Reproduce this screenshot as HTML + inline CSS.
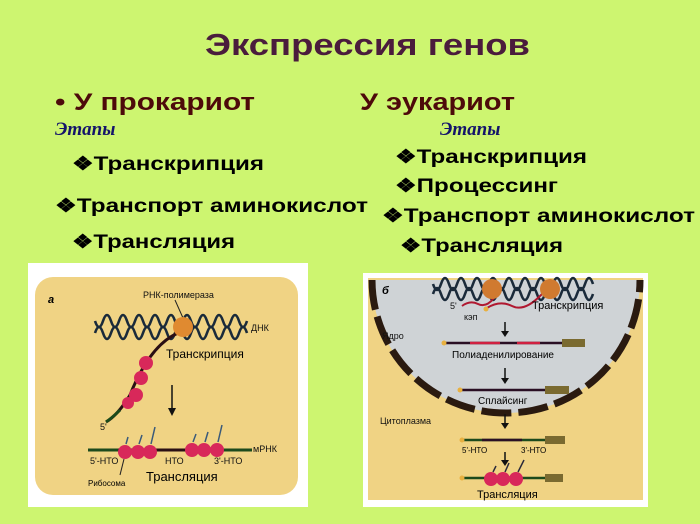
<!DOCTYPE html>
<html><head><meta charset="utf-8"><style>
html,body{margin:0;padding:0;background:#cdf570;}
svg{display:block}
.b{font-family:"Liberation Sans",sans-serif;font-weight:bold}
.s{font-family:"Liberation Sans",sans-serif;font-size:9px;fill:#111}
</style></head><body>
<svg width="700" height="524" viewBox="0 0 700 524" xmlns="http://www.w3.org/2000/svg">
<rect width="700" height="524" fill="#cdf570"/>
<text x="205" y="55" class="b" font-size="31" fill="#4a1c3c" textLength="325" lengthAdjust="spacingAndGlyphs">Экспрессия генов</text>
<text x="55" y="110" class="b" font-size="24" fill="#4d0a0a" textLength="200" lengthAdjust="spacingAndGlyphs">• У прокариот</text>
<text x="360" y="110" class="b" font-size="24" fill="#4d0a0a" textLength="155" lengthAdjust="spacingAndGlyphs">У эукариот</text>
<text x="55" y="135" font-family="Liberation Serif,serif" font-style="italic" font-weight="bold" font-size="19" fill="#14146a">Этапы</text>
<text x="440" y="135" font-family="Liberation Serif,serif" font-style="italic" font-weight="bold" font-size="19" fill="#14146a">Этапы</text>
<g class="b" font-size="19" fill="#000">
<text x="72" y="170" textLength="192" lengthAdjust="spacingAndGlyphs">❖Транскрипция</text>
<text x="55" y="212" textLength="313" lengthAdjust="spacingAndGlyphs">❖Транспорт аминокислот</text>
<text x="72" y="248" textLength="163" lengthAdjust="spacingAndGlyphs">❖Трансляция</text>
<text x="395" y="163" textLength="192" lengthAdjust="spacingAndGlyphs">❖Транскрипция</text>
<text x="395" y="192" textLength="163" lengthAdjust="spacingAndGlyphs">❖Процессинг</text>
<text x="382" y="222" textLength="313" lengthAdjust="spacingAndGlyphs">❖Транспорт аминокислот</text>
<text x="400" y="252" textLength="163" lengthAdjust="spacingAndGlyphs">❖Трансляция</text>
</g>

<!-- left diagram -->
<rect x="28" y="263" width="280" height="244" fill="#fff"/>
<rect x="35" y="277" width="263" height="218" rx="18" fill="#f0d384"/>
<text x="48" y="303" font-family="Liberation Sans,sans-serif" font-style="italic" font-weight="bold" font-size="11">а</text>
<text x="143" y="298" class="s">РНК-полимераза</text>
<line x1="175" y1="300" x2="183" y2="318" stroke="#222"/>
<g stroke="#1a2a3a" stroke-width="2.6" fill="none">
<path d="M95 321 Q99 333 103 321 T111 321 T119 321 T127 321 T135 321 T143 321 T151 321 T159 321 T167 321 T175 321 T183 321 T191 321 T199 321 T207 321 T215 321 T223 321 T231 321 T239 321 T247 321"/>
<path d="M95 333 Q99 321 103 333 T111 333 T119 333 T127 333 T135 333 T143 333 T151 333 T159 333 T167 333 T175 333 T183 333 T191 333 T199 333 T207 333 T215 333 T223 333 T231 333 T239 333 T247 333"/>
</g>
<text x="251" y="331" class="s">ДНК</text>
<path d="M178 333 Q150 345 130 395 Q118 415 106 422" stroke="#2a0f14" stroke-width="3" fill="none"/>
<path d="M120 410 Q112 418 106 422" stroke="#1a4a1a" stroke-width="3" fill="none"/>
<circle cx="183" cy="327" r="10" fill="#e08a30"/>
<g fill="#d8285a"><circle cx="146" cy="363" r="7"/><circle cx="141" cy="378" r="7"/><circle cx="136" cy="395" r="7"/><circle cx="128" cy="403" r="6"/></g>
<text x="166" y="358" font-family="Liberation Sans,sans-serif" font-size="12">Транскрипция</text>
<line x1="172" y1="385" x2="172" y2="412" stroke="#111" stroke-width="1.5"/>
<path d="M168 408 L172 416 L176 408Z" fill="#111"/>
<text x="100" y="430" class="s">5'</text>
<line x1="88" y1="450" x2="252" y2="450" stroke="#1c4a1c" stroke-width="3"/>
<line x1="118" y1="450" x2="220" y2="450" stroke="#2a0f14" stroke-width="3"/>
<g fill="#d8285a"><circle cx="125" cy="452" r="7"/><circle cx="138" cy="452" r="7"/><circle cx="150" cy="452" r="7"/><circle cx="192" cy="450" r="7"/><circle cx="204" cy="450" r="7"/><circle cx="217" cy="450" r="7"/></g>
<g stroke="#3a5a7a" stroke-width="1.5"><line x1="126" y1="444" x2="128" y2="437"/><line x1="139" y1="444" x2="142" y2="435"/><line x1="151" y1="444" x2="155" y2="427"/><line x1="193" y1="442" x2="196" y2="434"/><line x1="205" y1="442" x2="208" y2="432"/><line x1="218" y1="442" x2="222" y2="425"/></g>
<text x="253" y="452" class="s">мРНК</text>
<text x="90" y="464" class="s">5'-НТО</text>
<text x="165" y="464" class="s">НТО</text>
<text x="214" y="464" class="s">3'-НТО</text>
<line x1="124" y1="459" x2="120" y2="475" stroke="#222"/>
<text x="88" y="486" font-family="Liberation Sans,sans-serif" font-size="8">Рибосома</text>
<text x="146" y="481" font-family="Liberation Sans,sans-serif" font-size="13">Трансляция</text>

<!-- right diagram -->
<rect x="363" y="273" width="285" height="234" fill="#fff"/>
<rect x="368" y="278" width="275" height="222" fill="#f0d384"/>
<path d="M372 280 A134 133 0 0 0 640 280 Z" fill="#cfd3d6"/>
<path d="M372 280 A134 133 0 0 0 640 280" fill="none" stroke="#2a1a10" stroke-width="7" stroke-dasharray="30 7"/>
<text x="382" y="294" font-family="Liberation Sans,sans-serif" font-style="italic" font-weight="bold" font-size="11">б</text>
<g stroke="#1a2a3a" stroke-width="2.6" fill="none">
<path d="M433 284 Q437 296 441 284 T449 284 T457 284 T465 284 T473 284 T481 284 T489 284 T497 284 T505 284 T513 284 T521 284 T529 284 T537 284 T545 284 T553 284 T561 284 T569 284 T577 284 T585 284 T593 284"/>
<path d="M433 294 Q437 282 441 294 T449 294 T457 294 T465 294 T473 294 T481 294 T489 294 T497 294 T505 294 T513 294 T521 294 T529 294 T537 294 T545 294 T553 294 T561 294 T569 294 T577 294 T585 294 T593 294"/>
</g>
<path d="M462 306 Q470 300 478 304 T494 298" stroke="#b01830" stroke-width="2" fill="none"/>
<path d="M487 308 Q500 300 512 306 T540 296 T550 298" stroke="#b01830" stroke-width="2" fill="none"/>
<circle cx="486" cy="309" r="2.5" fill="#e8b040"/>
<circle cx="492" cy="289" r="10" fill="#d07a30"/><circle cx="550" cy="289" r="10" fill="#d07a30"/>
<text x="450" y="309" class="s">5'</text>
<text x="464" y="320" class="s">кэп</text>
<text x="532" y="309" font-family="Liberation Sans,sans-serif" font-size="11">Транскрипция</text>
<text x="382" y="339" class="s">Ядро</text>
<g stroke="#111" stroke-width="1.5"><line x1="505" y1="322" x2="505" y2="333"/><line x1="505" y1="368" x2="505" y2="380"/><line x1="505" y1="414" x2="505" y2="425"/><line x1="505" y1="452" x2="505" y2="462"/></g>
<g fill="#111"><path d="M501 331 L505 337 L509 331Z"/><path d="M501 378 L505 384 L509 378Z"/><path d="M501 423 L505 429 L509 423Z"/><path d="M501 460 L505 466 L509 460Z"/></g>
<line x1="444" y1="343" x2="562" y2="343" stroke="#2a0f24" stroke-width="2.5"/>
<line x1="470" y1="343" x2="500" y2="343" stroke="#d02040" stroke-width="2.5"/>
<line x1="517" y1="343" x2="540" y2="343" stroke="#d02040" stroke-width="2.5"/>
<rect x="562" y="339" width="23" height="8" fill="#7a6a30"/>
<circle cx="444" cy="343" r="2.5" fill="#e8b040"/>
<text x="452" y="358" font-family="Liberation Sans,sans-serif" font-size="10">Полиаденилирование</text>
<line x1="460" y1="390" x2="545" y2="390" stroke="#2a0f24" stroke-width="2.5"/>
<rect x="545" y="386" width="24" height="8" fill="#7a6a30"/>
<circle cx="460" cy="390" r="2.5" fill="#e8b040"/>
<text x="478" y="404" font-family="Liberation Sans,sans-serif" font-size="10">Сплайсинг</text>
<text x="380" y="424" class="s">Цитоплазма</text>
<line x1="462" y1="440" x2="545" y2="440" stroke="#1c4a1c" stroke-width="2.5"/>
<line x1="482" y1="440" x2="522" y2="440" stroke="#2a0f24" stroke-width="2.5"/>
<rect x="545" y="436" width="20" height="8" fill="#7a6a30"/>
<circle cx="462" cy="440" r="2.5" fill="#e8b040"/>
<text x="462" y="453" font-family="Liberation Sans,sans-serif" font-size="8">5'-НТО</text>
<text x="521" y="453" font-family="Liberation Sans,sans-serif" font-size="8">3'-НТО</text>
<line x1="462" y1="478" x2="545" y2="478" stroke="#1c4a1c" stroke-width="2.5"/>
<rect x="545" y="474" width="18" height="8" fill="#7a6a30"/>
<circle cx="462" cy="478" r="2.5" fill="#e8b040"/>
<g fill="#d8285a"><circle cx="491" cy="479" r="7"/><circle cx="503" cy="479" r="7"/><circle cx="516" cy="479" r="7"/></g>
<g stroke="#2a2a3a" stroke-width="1.5"><line x1="493" y1="472" x2="496" y2="466"/><line x1="505" y1="472" x2="509" y2="463"/><line x1="518" y1="472" x2="524" y2="460"/></g>
<text x="477" y="498" font-family="Liberation Sans,sans-serif" font-size="11">Трансляция</text>
</svg>
</body></html>
